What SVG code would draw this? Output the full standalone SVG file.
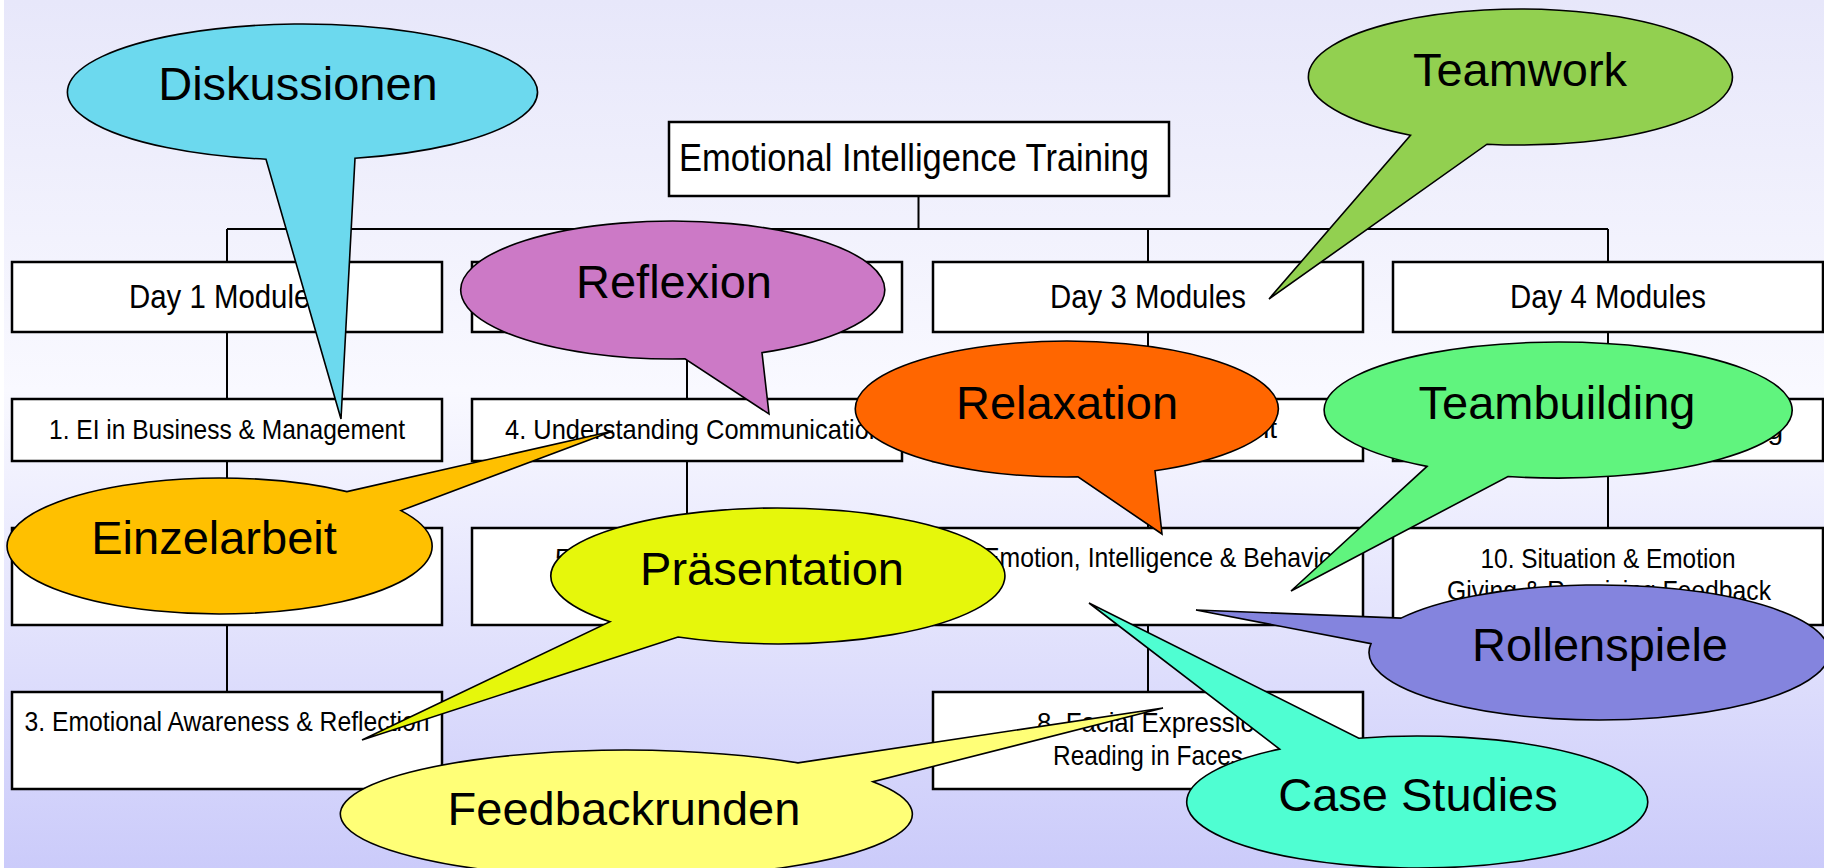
<svg xmlns="http://www.w3.org/2000/svg" width="1824" height="868" viewBox="0 0 1824 868">
<defs>
<linearGradient id="bg" x1="0" y1="0" x2="0" y2="1">
<stop offset="0" stop-color="#E7E7FA"/>
<stop offset="0.45" stop-color="#F9F9FF"/>
<stop offset="1" stop-color="#CBCBFA"/>
</linearGradient>
<style>
.box{fill:#FFFFFF;stroke:#000;stroke-width:2.5}
.conn{stroke:#000;stroke-width:2;fill:none}
.bt{font-family:"Liberation Sans",Arial,sans-serif;font-size:28px;fill:#000}
.dt{font-family:"Liberation Sans",Arial,sans-serif;font-size:33.5px;fill:#000;text-anchor:middle}
.rt{font-family:"Liberation Sans",Arial,sans-serif;font-size:39px;fill:#000;text-anchor:middle}
.bub{stroke:#000;stroke-width:1.6;stroke-linejoin:miter}
.ct{font-family:"Liberation Sans",Arial,sans-serif;font-size:47px;fill:#000;text-anchor:middle}
</style>
</defs>
<rect x="0" y="0" width="1824" height="868" fill="#FFFFFF"/>
<rect x="4" y="0" width="1820" height="868" fill="url(#bg)"/>

<g id="connectors" class="conn">
<path d="M918.5 196V229M227 229H1608M227 229V262M687 229V262M1148 229V262M1608 229V262"/>
<path d="M227 332V399M687 332V399M1148 332V399M1608 332V399"/>
<path d="M227 461V528M687 461V528M1148 461V528M1608 461V528"/>
<path d="M227 625V692M1148 625V692"/>
</g>

<g id="node-root"><rect class="box" x="669" y="122" width="500" height="74"/><text class="rt" x="914" y="171" textLength="470" lengthAdjust="spacingAndGlyphs">Emotional Intelligence Training</text></g>

<g id="node-day1"><rect class="box" x="12" y="262" width="430" height="70"/><text class="dt" x="227" y="308" textLength="196" lengthAdjust="spacingAndGlyphs">Day 1 Modules</text></g>
<g id="node-day2"><rect class="box" x="472" y="262" width="430" height="70"/></g>
<g id="node-day3"><rect class="box" x="933" y="262" width="430" height="70"/><text class="dt" x="1148" y="308" textLength="196" lengthAdjust="spacingAndGlyphs">Day 3 Modules</text></g>
<g id="node-day4"><rect class="box" x="1393" y="262" width="430" height="70"/><text class="dt" x="1608" y="308" textLength="196" lengthAdjust="spacingAndGlyphs">Day 4 Modules</text></g>

<g id="node-m1"><rect class="box" x="12" y="399" width="430" height="62"/><text class="bt" x="227" y="439" text-anchor="middle" textLength="356" lengthAdjust="spacingAndGlyphs">1. EI in Business &amp; Management</text></g>
<g id="node-m4"><rect class="box" x="472" y="399" width="430" height="62"/><text class="bt" x="505" y="439" textLength="378" lengthAdjust="spacingAndGlyphs">4. Understanding Communication</text></g>
<g id="node-m6"><rect class="box" x="933" y="399" width="430" height="62"/><text class="bt" x="1277" y="438" text-anchor="end">nt</text></g>
<g id="node-m9"><rect class="box" x="1393" y="399" width="430" height="62"/><text class="bt" x="1783" y="439" text-anchor="end">g</text></g>

<g id="node-m2"><rect class="box" x="12" y="528" width="430" height="97"/></g>
<g id="node-m5"><rect class="box" x="472" y="528" width="430" height="97"/><text class="bt" x="555" y="568">5</text></g>
<g id="node-m7"><rect class="box" x="933" y="528" width="430" height="97"/><text class="bt" x="983" y="567" textLength="358" lengthAdjust="spacingAndGlyphs">Emotion, Intelligence &amp; Behavior</text></g>
<g id="node-m10"><rect class="box" x="1393" y="528" width="430" height="97"/><text class="bt" x="1608" y="568" text-anchor="middle" textLength="255" lengthAdjust="spacingAndGlyphs">10. Situation &amp; Emotion</text><text class="bt" x="1609" y="600" text-anchor="middle" textLength="324" lengthAdjust="spacingAndGlyphs">Giving &amp; Receiving Feedback</text></g>

<g id="node-m3"><rect class="box" x="12" y="692" width="430" height="97"/><text class="bt" x="227" y="731" text-anchor="middle" textLength="405" lengthAdjust="spacingAndGlyphs">3. Emotional Awareness &amp; Reflection</text></g>
<g id="node-m8"><rect class="box" x="933" y="692" width="430" height="97"/><text class="bt" x="1037" y="732" textLength="245" lengthAdjust="spacingAndGlyphs">8. Facial Expressions</text><text class="bt" x="1148" y="765" text-anchor="middle" textLength="190" lengthAdjust="spacingAndGlyphs">Reading in Faces</text></g>

<g id="callout-diskussionen"><path class="bub" fill="#6CD9EE" d="M266 159.2A235 68 0 1 1 355 158.3L341 419Z"/><text class="ct" x="298" y="100">Diskussionen</text></g>
<g id="callout-reflexion"><path class="bub" fill="#CC79C6" d="M685 358.9A212 69 0 1 1 762 352.6L769 414Z"/><text class="ct" x="674" y="298">Reflexion</text></g>
<g id="callout-teamwork"><path class="bub" fill="#92D050" d="M1410.5 135.2A212 68 0 1 1 1487 144.2L1269 299Z"/><text class="ct" x="1520" y="86">Teamwork</text></g>
<g id="callout-relaxation"><path class="bub" fill="#FF6600" d="M1078 476.9A211.5 68 0 1 1 1155 470.8L1162 534Z"/><text class="ct" x="1067" y="419">Relaxation</text></g>
<g id="callout-teambuilding"><path class="bub" fill="#60F47E" d="M1427 466.4A234 68 0 1 1 1508 476.5L1291 591Z"/><text class="ct" x="1557" y="419">Teambuilding</text></g>
<g id="callout-einzelarbeit"><path class="bub" fill="#FFC000" d="M347 491.6A212.5 68 0 1 0 401 510.6L613 431Z"/><text class="ct" x="214" y="554">Einzelarbeit</text></g>
<g id="callout-praesentation"><path class="bub" fill="#E6F70B" d="M610 621.7A227 68 0 1 1 678 637L362 740Z"/><text class="ct" x="772" y="585">Präsentation</text></g>
<g id="callout-feedbackrunden"><path class="bub" fill="#FFFF77" d="M798 762.9A286 64 0 1 0 873 781.7L1163 708Z"/><text class="ct" x="624" y="825">Feedbackrunden</text></g>
<g id="callout-rollenspiele"><path class="bub" fill="#8484DE" d="M1401 618.1A230 67.5 0 1 1 1371 643.6L1196 610Z"/><text class="ct" x="1600" y="661">Rollenspiele</text></g>
<g id="callout-casestudies"><path class="bub" fill="#4FFED2" d="M1279.6 749.1A230.5 66 0 1 0 1358.8 738.2L1089 603Z"/><text class="ct" x="1418" y="811">Case Studies</text></g>
</svg>
